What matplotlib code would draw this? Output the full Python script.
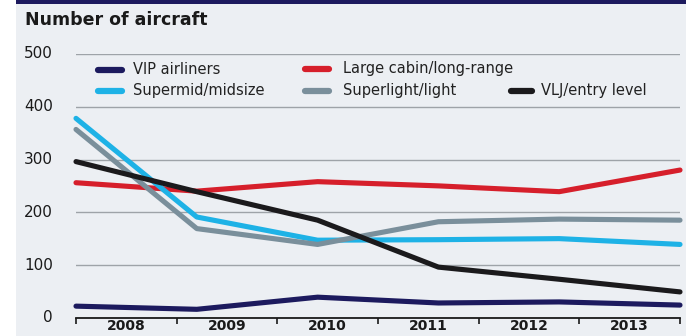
import matplotlib
matplotlib.use("Agg")
import matplotlib.pyplot as plt
from matplotlib.lines import Line2D
from matplotlib.patches import Rectangle
import numpy as np

# ---- data ----
years = ["2008", "2009", "2010", "2011", "2012", "2013"]
series_names = ["VIP airliners", "Large cabin/long-range", "Supermid/midsize",
                "Superlight/light", "VLJ/entry level"]
vip = [22, 16, 39, 28, 30, 24]
large_cabin = [256, 240, 258, 250, 239, 280]
supermid = [378, 191, 147, 148, 150, 139]
superlight = [357, 169, 139, 182, 187, 185]
vlj = [296, 239, 185, 96, 73, 49]
y_ticks = [0, 100, 200, 300, 400, 500]

colors = {
    "VIP airliners": "#1c1a5e",
    "Large cabin/long-range": "#d61f2b",
    "Supermid/midsize": "#1eb2e6",
    "Superlight/light": "#7a8f9b",
    "VLJ/entry level": "#1b1a1c",
}
values = {
    "VIP airliners": vip,
    "Large cabin/long-range": large_cabin,
    "Supermid/midsize": supermid,
    "Superlight/light": superlight,
    "VLJ/entry level": vlj,
}

W, H = 686, 336
fig = plt.figure(figsize=(W / 100, H / 100), dpi=100)
fig.patch.set_facecolor("white")

def fx(px):
    return px / W

def fy(py):
    return 1 - py / H

# background panel and top bar
fig.add_artist(Rectangle((fx(16), 0), 1 - fx(16), 1, transform=fig.transFigure,
                         facecolor="#eceff3", edgecolor="none", zorder=0))
fig.add_artist(Rectangle((fx(16), fy(3.5)), 1 - fx(16), 3.5 / H, transform=fig.transFigure,
                         facecolor="#1d1a5e", edgecolor="none", zorder=1))

fig.text(fx(25), fy(20), "Number of aircraft", fontsize=12.5, fontweight="bold",
         color="#1a1a1a", ha="left", va="center")

left, right, top, bottom = 76, 680, 54, 317.75
ax = fig.add_axes([fx(left), fy(bottom), (right - left) / W, (bottom - top) / H])
ax.patch.set_visible(False)
x = np.arange(len(years))
ax.set_xlim(0, len(years) - 1)
ax.set_ylim(0, 500)

for s in ["top", "right", "left"]:
    ax.spines[s].set_visible(False)
ax.spines["bottom"].set_color("#1a1a1a")
ax.spines["bottom"].set_linewidth(1.3)
ax.spines["bottom"].set_zorder(3)

ax.set_yticks(y_ticks)
ax.set_yticklabels([str(v) for v in y_ticks])
ax.tick_params(axis="y", length=0, pad=16.5, labelsize=11, labelcolor="#1a1a1a")
for lab in ax.get_yticklabels():
    lab.set_verticalalignment("center")
ax.yaxis.grid(True, color="#9ea3a8", linewidth=1.0)
ax.set_axisbelow(True)

# x ticks: bin edges as ticks, year labels at bin centers
n = len(years)
edges = np.linspace(0, n - 1, n + 1)
centers = (edges[:-1] + edges[1:]) / 2
ax.set_xticks(edges)
ax.set_xticklabels([])
ax.tick_params(axis="x", which="major", direction="out", length=4.5, width=1.2,
               color="#1a1a1a")
ax.set_xticks(centers, minor=True)
ax.set_xticklabels(years, minor=True)
ax.tick_params(axis="x", which="minor", length=0, pad=1.0, labelsize=10,
               labelcolor="#1a1a1a")
for lab in ax.get_xticklabels(minor=True):
    lab.set_fontweight("bold")

draw_order = ["Large cabin/long-range", "Supermid/midsize", "Superlight/light",
              "VLJ/entry level", "VIP airliners"]
for i, name in enumerate(draw_order):
    ax.plot(x, values[name], color=colors[name], linewidth=3.7, clip_on=False,
            solid_capstyle="round", solid_joinstyle="round", zorder=4 + i)

# manual legend
legend_layout = {
    "VIP airliners": (95, 125, 70, 133),
    "Supermid/midsize": (95, 125, 90.5, 133),
    "Large cabin/long-range": (302, 332, 68.5, 343),
    "Superlight/light": (302, 332, 90.5, 343),
    "VLJ/entry level": (508, 535, 91, 541),
}
for name in series_names:
    x0, x1, yy, tx = legend_layout[name]
    fig.add_artist(Line2D([fx(x0 + 3), fx(x1 - 3)], [fy(yy), fy(yy)],
                          transform=fig.transFigure, color=colors[name],
                          linewidth=4.5, solid_capstyle="round", zorder=5))
    fig.text(fx(tx), fy(yy), name, fontsize=10.5, color="#222222",
             ha="left", va="center")

fig.savefig("out.png", dpi=100, facecolor=fig.get_facecolor())
